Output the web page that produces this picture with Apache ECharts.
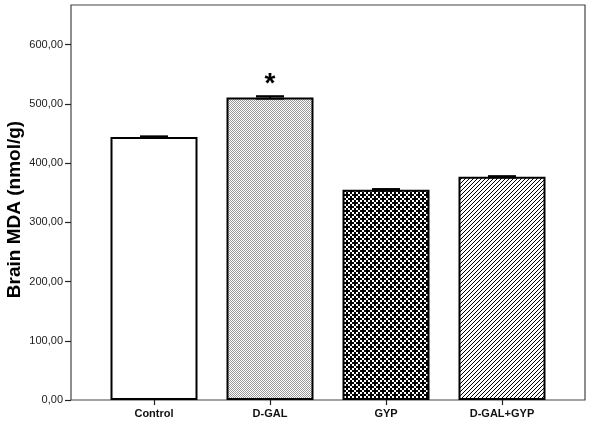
<!DOCTYPE html>
<html>
<head>
<meta charset="utf-8">
<script src="https://cdn.jsdelivr.net/npm/echarts@6/dist/echarts.min.js"></script>
<style>
  html, body { margin: 0; padding: 0; background: #fff; }
  #main { width: 591px; height: 427px; }
</style>
</head>
<body>
<div id="main"></div>
<script>
// data
var categories = ['Control', 'D-GAL', 'GYP', 'D-GAL+GYP'];
var meanValues = [444, 511, 355, 377];
var errValues = [1.2, 2.0, 1.2, 1.0];
var marks = ['', '*', '', ''];
var yTicks = [0, 100, 200, 300, 400, 500, 600];
var yMax = 667;

// 填充图案
function makeTile(w, h, draw) {
  var c = document.createElement('canvas');
  c.width = w; c.height = h;
  var ctx = c.getContext('2d');
  ctx.fillStyle = '#fff';
  ctx.fillRect(0, 0, w, h);
  draw(ctx);
  return { image: c, repeat: 'repeat' };
}
var dotFill = makeTile(2, 2, function (ctx) {
  ctx.fillStyle = '#9a9a9a';
  ctx.fillRect(0, 0, 1, 1);
  ctx.fillRect(1, 1, 1, 1);
});
var crossFill = makeTile(8, 8, function (ctx) {
  ctx.fillStyle = '#000';
  // two plus marks, offset diagonally
  ctx.fillRect(2, 0, 2, 6);
  ctx.fillRect(0, 2, 6, 2);
  ctx.fillRect(6, 4, 2, 4);
  ctx.fillRect(6, 0, 2, 2);
  ctx.fillRect(4, 6, 4, 2);
  ctx.fillRect(0, 6, 2, 2);
});
var hatchFill = makeTile(4, 4, function (ctx) {
  ctx.strokeStyle = '#000';
  ctx.lineWidth = 1;
  ctx.beginPath();
  ctx.moveTo(-1, 5); ctx.lineTo(5, -1);
  ctx.moveTo(-1, 1); ctx.lineTo(1, -1);
  ctx.moveTo(3, 5); ctx.lineTo(5, 3);
  ctx.stroke();
});
var fills = ['#fff', dotFill, crossFill, hatchFill];

var barData = meanValues.map(function (v, i) {
  return { value: v, itemStyle: { color: fills[i] } };
});
var errData = meanValues.map(function (v, i) {
  return [i, v - errValues[i], v + errValues[i]];
});

var chart = echarts.init(document.getElementById('main'));
chart.setOption({
  animation: false,
  backgroundColor: '#fff',
  textStyle: { fontFamily: 'Liberation Sans, Arial, sans-serif' },
  grid: [
    { left: 71, top: 5, right: 6, bottom: 27, show: true, borderColor: '#444', borderWidth: 1.2,
      backgroundColor: 'transparent', containLabel: false, outerBoundsMode: 'none' },
    { left: 96, top: 5, right: 31, bottom: 27, containLabel: false, outerBoundsMode: 'none' }
  ],
  xAxis: [
    { gridIndex: 0, type: 'value', show: false, min: 0, max: 1 },
    {
      gridIndex: 1, type: 'category', data: categories,
      axisLine: { show: false },
      axisTick: { show: true, alignWithLabel: true, length: 5, lineStyle: { color: '#222', width: 1.2 } },
      axisLabel: { color: '#111', fontSize: 11, fontWeight: 'bold', margin: 8 }
    }
  ],
  yAxis: [
    {
      gridIndex: 0, type: 'value', min: 0, max: yMax, interval: 100,
      name: 'Brain MDA (nmol/g)', nameLocation: 'middle', nameGap: 47, nameMoveOverlap: false,
      nameTextStyle: { fontSize: 19, fontWeight: 'bold', color: '#000', padding: [0, 14, 0, 0] },
      axisLine: { show: false },
      axisTick: { show: true, length: 6, lineStyle: { color: '#222', width: 1.2 },
        customValues: yTicks },
      axisLabel: { color: '#222', fontSize: 11, margin: 8,
        customValues: yTicks,
        formatter: function (v) { return v.toFixed(2).replace('.', ','); } },
      splitLine: { show: false }
    },
    { gridIndex: 1, type: 'value', min: 0, max: yMax, show: false, splitLine: { show: false } }
  ],
  series: [
    {
      type: 'bar', xAxisIndex: 1, yAxisIndex: 1,
      barWidth: 87,
      data: barData,
      itemStyle: { borderColor: '#000', borderWidth: 2 }
    },
    {
      type: 'custom', xAxisIndex: 1, yAxisIndex: 1, z: 5,
      data: errData,
      renderItem: function (params, api) {
        var lo = api.coord([api.value(0), api.value(1)]);
        var hi = api.coord([api.value(0), api.value(2)]);
        var half = 14;
        var style = { stroke: '#000', lineWidth: 2 };
        var kids = [
          { type: 'line', shape: { x1: lo[0], y1: lo[1], x2: hi[0], y2: hi[1] }, style: style },
          { type: 'line', shape: { x1: hi[0] - half, y1: hi[1], x2: hi[0] + half, y2: hi[1] }, style: style },
          { type: 'line', shape: { x1: lo[0] - half, y1: lo[1], x2: lo[0] + half, y2: lo[1] }, style: style }
        ];
        var mark = marks[params.dataIndex];
        if (mark) {
          kids.push({
            type: 'text',
            style: { text: mark, x: hi[0], y: hi[1] + 2, align: 'center', verticalAlign: 'bottom',
              fontSize: 28, fontWeight: 'bold', fill: '#000', fontFamily: 'Liberation Sans, Arial, sans-serif' }
          });
        }
        return { type: 'group', children: kids };
      }
    }
  ]
});
</script>
</body>
</html>
